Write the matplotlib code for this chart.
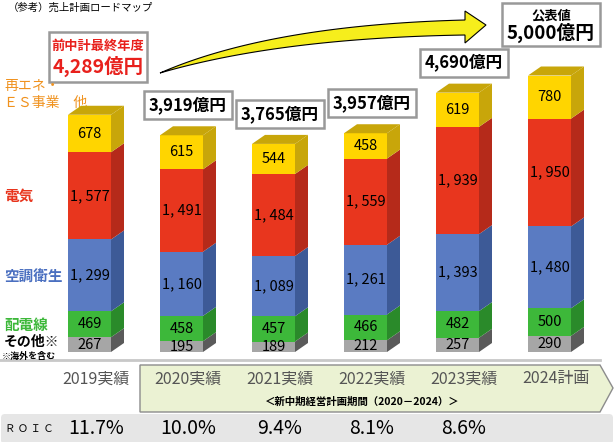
import numpy as np
import matplotlib
matplotlib.use("Agg")
import matplotlib.pyplot as plt
from matplotlib.patches import Polygon, Rectangle, FancyBboxPatch

plt.rcParams['font.family'] = ['Noto Sans CJK JP', 'DejaVu Sans']

# ---- data ----
years = ["2019実績", "2020実績", "2021実績", "2022実績", "2023実績", "2024計画"]
other = [267, 195, 189, 212, 257, 290]          # その他
wiring = [469, 458, 457, 466, 482, 500]         # 配電線
hvac = [1299, 1160, 1089, 1261, 1393, 1480]     # 空調衛生
electric = [1577, 1491, 1484, 1559, 1939, 1950]  # 電気
renew = [678, 615, 544, 458, 619, 780]          # 再エネ・ES事業 他
totals = [4289, 3919, 3765, 3957, 4690, 5000]
roic = ["11.7%", "10.0%", "9.4%", "8.1%", "8.6%", ""]

segments = [other, wiring, hvac, electric, renew]
front_cols = ["#A6A6A6", "#3DB83A", "#5A7BC2", "#E8361E", "#FFD500"]
side_cols = ["#5A5A5A", "#2A8A2A", "#3D5A97", "#B52A1A", "#C8A60A"]

W, H = 614, 442
fig = plt.figure(figsize=(W / 100, H / 100), dpi=100)

# pixel overlay for decorations
ov = fig.add_axes([0, 0, 1, 1], zorder=0)
ov.set_xlim(0, W)
ov.set_ylim(H, 0)
ov.axis("off")

# bar axes: y in 億円, x in category index
PX_UNIT = 0.0553
BASE_PX = 352
ax = fig.add_axes([0, (H - BASE_PX) / H, 1, BASE_PX / H], zorder=1)
ax.set_xlim(-89.5 / 92, (W - 89.5) / 92)
ax.set_ylim(0, BASE_PX / PX_UNIT)
ax.axis("off")
ax.patch.set_alpha(0)

bw = 43 / 92
dx = 13 / 92
dy = 9 / PX_UNIT

for i in range(len(years)):
    x0 = i - bw / 2
    x1 = i + bw / 2
    bottom = 0
    for k, seg in enumerate(segments):
        v = seg[i]
        top = bottom + v
        ax.add_patch(Rectangle((x0, bottom), bw, v, facecolor=front_cols[k],
                               edgecolor="none", zorder=3))
        ax.add_patch(Polygon([(x1, bottom), (x1 + dx, bottom + dy),
                              (x1 + dx, top + dy), (x1, top)],
                             closed=True, facecolor=side_cols[k],
                             edgecolor="none", zorder=3))
        lab = f"{v:,}".replace(",", ", ")
        ax.text(i, bottom + v / 2, lab, ha="center", va="center",
                fontsize=10.5, color="black", zorder=4)
        bottom = top
    ax.add_patch(Polygon([(x0, bottom), (x1, bottom), (x1 + dx, bottom + dy),
                          (x0 + dx, bottom + dy)], closed=True,
                         facecolor="#C8A60A", edgecolor="none", zorder=3))
    # total boxes (2020-2023)
    if 1 <= i <= 4:
        ax.annotate(f"{totals[i]:,}億円", xy=(i + dx / 2, totals[i] + dy),
                    xytext=(0, 12), textcoords="offset pixels",
                    ha="center", va="bottom", fontsize=12, fontweight="bold",
                    zorder=5,
                    bbox=dict(boxstyle="square,pad=0.3", fc="white",
                              ec="#999999", lw=1.8))
    # year labels
    ax.text(i + dx / 2, -(379 - BASE_PX) / PX_UNIT, years[i], ha="center",
            va="center", fontsize=11.5, color="#555555", zorder=5)
    if roic[i]:
        ax.text(i + dx / 2, -(428 - BASE_PX) / PX_UNIT, roic[i], ha="center",
                va="center", fontsize=14, color="black", zorder=5)

# title
ov.text(8, 8, "（参考）売上計画ロードマップ", fontsize=7.5, va="center", ha="left")

# 2019 box
ov.add_patch(Rectangle((49, 32), 98, 50, fc="white", ec="#999999", lw=1.8))
ov.text(98, 46, "前中計最終年度", color="#E8201C", fontsize=9.5,
        fontweight="bold", ha="center", va="center")
ov.text(98, 66, f"{totals[0]:,}億円", color="#E8201C", fontsize=14,
        fontweight="bold", ha="center", va="center")

# 2024 box
ov.add_patch(Rectangle((502, 3), 98, 43, fc="white", ec="#999999", lw=1.8))
ov.text(551, 15, "公表値", fontsize=9.5, fontweight="bold", ha="center", va="center")
ov.text(551, 33, f"{totals[5]:,}億円", fontsize=13.5, fontweight="bold",
        ha="center", va="center")

# curved arrow
t = np.linspace(0, 1, 60)
def bez(p0, p1, p2):
    p0, p1, p2 = map(np.array, (p0, p1, p2))
    return ((1 - t)[:, None] ** 2 * p0 + 2 * (t * (1 - t))[:, None] * p1
            + (t ** 2)[:, None] * p2)
upper = bez((160, 73), (270, 25), (465, 20))
lower = bez((160, 73), (280, 38), (465, 35))
arrow_pts = np.vstack([upper, [(465, 11), (486, 25), (465, 43)], lower[::-1]])
ov.add_patch(Polygon(arrow_pts, closed=True, fc="#F6EE1C", ec="black", lw=0.8,
                     zorder=6))

# left category labels
ov.text(4, 86, "再エネ・", color="#F0921E", fontsize=10, va="center")
ov.text(4, 103, "ＥＳ事業　他", color="#F0921E", fontsize=10, va="center")
ov.text(4, 196, "電気", color="#E8341C", fontsize=10.5, va="center", fontweight="bold")
ov.text(4, 277, "空調衛生", color="#4A6FC0", fontsize=10.5, va="center", fontweight="bold")
ov.text(4, 325, "配電線", color="#3DB83A", fontsize=10.5, va="center", fontweight="bold")
ov.text(4, 342, "その他※", color="black", fontsize=10, va="center", fontweight="bold")
ov.text(2, 356, "※海外を含む", color="black", fontsize=6.5, va="center", fontweight="bold")

# separator line
ov.plot([0, 600], [360, 360], color="#C8C8C8", lw=2)

# plan period pentagon
ov.add_patch(Polygon([(140, 365), (600, 365), (613, 388), (600, 412), (140, 412)],
                     closed=True, fc="#EBF2D3", ec="#8C8C8C", lw=1))
ov.text(362, 402, "＜新中期経営計画期間（2020－2024）＞", fontsize=7.5,
        ha="center", va="center", fontweight="bold")

# ROIC band
ov.add_patch(FancyBboxPatch((1, 414), 612, 30, boxstyle="round,pad=0,rounding_size=4",
                            fc="#E6E6E6", ec="none"))
ov.text(5, 429, "Ｒ Ｏ Ｉ Ｃ", fontsize=7.5, va="center", ha="left")

fig.savefig("out.png", dpi=100)
